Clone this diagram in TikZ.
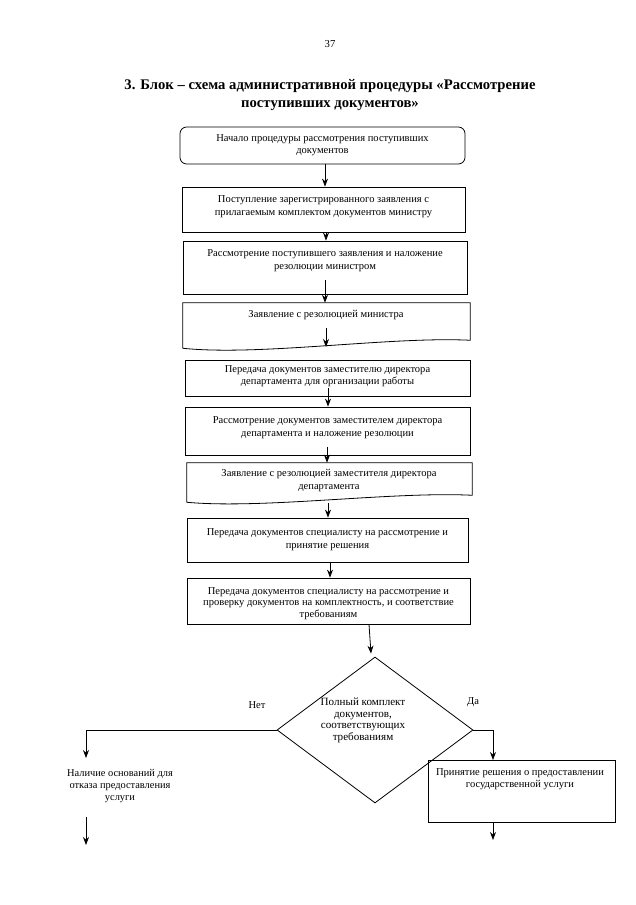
\documentclass[tikz,border=0pt]{standalone}
\usepackage{fontspec}
\setmainfont{Liberation Serif}
\usetikzlibrary{arrows.meta,calc,shapes.geometric}
\tikzset{
  pbox/.style={draw, line width=0.6pt, inner sep=0pt},
  docbox/.style={inner sep=0pt},
  txt/.style={align=center, inner sep=0pt, font=\fontsize{7.9}{9.3}\selectfont},
  arr/.style={line width=0.6pt, -{Stealth[length=6pt,width=4.5pt]}},
  ln/.style={line width=0.6pt}
}
\begin{document}
\begin{tikzpicture}[x=0.75pt,y=-0.75pt]
\useasboundingbox[fill=white] (0,0) rectangle (635,905);

\node[inner sep=0pt, font=\fontsize{8}{9}\selectfont] (pg) at (330,44) {37};
\node[align=center, inner sep=0pt, font=\bfseries\fontsize{11}{13.5}\selectfont] (title) at (330,95)
  {3. Блок – схема административной процедуры «Рассмотрение\\поступивших документов»};

% boxes
\node[pbox, rounded corners=5pt, minimum width=285*0.75pt, minimum height=37*0.75pt] (b1) at (322.5,145.5) {};
\node[pbox, minimum width=283*0.75pt, minimum height=45*0.75pt] (b2) at (323.5,209.5) {};
\node[pbox, minimum width=284*0.75pt, minimum height=53*0.75pt] (b3) at (325,267.5) {};
\node[docbox, minimum width=287*0.75pt, minimum height=37*0.75pt] (b4) at (326.5,321.5) {};
\node[pbox, minimum width=285*0.75pt, minimum height=36*0.75pt] (b5) at (327.5,378) {};
\node[pbox, minimum width=285*0.75pt, minimum height=48*0.75pt] (b6) at (327.5,431) {};
\node[docbox, minimum width=285*0.75pt, minimum height=32*0.75pt] (b7) at (329.5,479) {};
\node[pbox, minimum width=281*0.75pt, minimum height=44*0.75pt] (b8) at (327.5,540) {};
\node[pbox, minimum width=283*0.75pt, minimum height=46*0.75pt] (b9) at (328.5,601) {};
\node[draw, line width=0.6pt, diamond, inner sep=0pt, minimum width=196*0.75pt, minimum height=146*0.75pt] (d) at (375,730) {};
\node[pbox, minimum width=187*0.75pt, minimum height=62*0.75pt] (yes) at (521.5,791) {};

% document shapes
\draw[ln] ($(b4.south west)+(0,8)$) -- (b4.north west) -- (b4.north east) -- (b4.south east)
  .. controls +(-80,-4) and +(77,8) .. ($(b4.south west)+(0,8)$);
\draw[ln] ($(b7.south west)+(0,7)$) -- (b7.north west) -- (b7.north east) -- (b7.south east)
  .. controls +(-80,-4) and +(77,7) .. ($(b7.south west)+(0,7)$);

% texts
\node[txt] (t1) at (322.5,145) {Начало процедуры рассмотрения поступивших\\документов};
\node[txt] (t2) at (323.5,206.5) {Поступление зарегистрированного заявления с\\прилагаемым комплектом документов министру};
\node[txt] (t3) at (325,260.5) {Рассмотрение поступившего заявления и наложение\\резолюции министром};
\node[txt] (t4) at (326,315) {Заявление с резолюцией министра};
\node[txt] (t5) at (327.5,376) {Передача документов заместителю директора\\департамента для организации работы};
\node[txt] (t6) at (327.5,427.5) {Рассмотрение документов заместителем директора\\департамента и наложение резолюции};
\node[txt] (t7) at (329,480.5) {Заявление с резолюцией заместителя директора\\департамента};
\node[txt] (t8) at (327.5,539.5) {Передача документов специалисту на рассмотрение и\\принятие решения};
\node[txt, font=\fontsize{7.9}{8.7}\selectfont] (t9) at (328.5,603.5) {Передача документов специалисту на рассмотрение и\\проверку документов на комплектность, и соответствие\\требованиям};
\node[txt, font=\fontsize{8.3}{8.8}\selectfont] (dt) at (363,720.5) {Полный комплект\\документов,\\соответствующих\\требованиям};
\node[txt] (yt) at (520,779) {Принятие решения о предоставлении\\государственной услуги};
\node[txt, font=\fontsize{7.8}{9.3}\selectfont] (nt) at (120,786) {Наличие оснований для\\отказа предоставления\\услуги};
\node[txt] (no) at (257,705) {Нет};
\node[txt] (da) at (473,702) {Да};

% connectors
\draw[arr] (b1.south -| 325,0) -- (b2.north -| 325,0);
\draw[arr] (b2.south -| 326,0) -- (b3.north -| 326,0);
\draw[arr] ($(b3.south -| 325,0)+(0,-14)$) -- (b4.north -| 325,0);
\coordinate (a4s) at (326,328);
\coordinate (a4e) at (326,347);
\draw[arr] (a4s) -- (a4e);
\draw[arr] ($(b5.south -| 328,0)+(0,-8)$) -- (b6.north -| 328,0);
\draw[arr] ($(b6.south -| 327,0)+(0,-8)$) -- (b7.north -| 327,0);
\draw[arr] ($(b7.south -| 328,0)+(0,8)$) -- (b8.north -| 328,0);
\draw[arr] (b8.south -| 330,0) -- (b9.north -| 330,0);
\draw[arr] (b9.south -| 369,0) -- ($(d.north)+(-4,-3)$);
\coordinate (yin) at (493,760);
\draw[arr] (d.east) -| (yin);
\coordinate (nend) at (86,758);
\draw[arr] (d.west) -| (nend);
\coordinate (ns) at (86,817);
\coordinate (ne) at (86,845);
\draw[arr] (ns) -- (ne);
\coordinate (ye) at (493,840);
\draw[arr] (yes.south -| ye) -- (ye);
\end{tikzpicture}
\end{document}
